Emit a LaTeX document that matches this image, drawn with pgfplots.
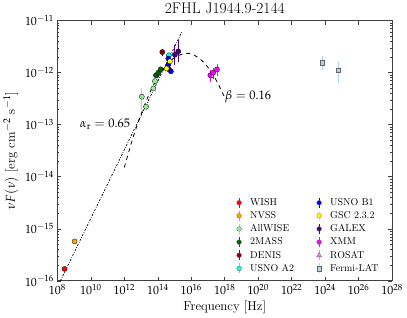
\documentclass[border=0pt]{standalone}
\usepackage{mathpazo}
\usepackage{pgfplots}
\pgfplotsset{compat=1.18}
\definecolor{cWISH}{HTML}{FF0000}
\definecolor{cNVSS}{HTML}{FFA500}
\definecolor{cALLW}{HTML}{90EE90}
\definecolor{cTMASS}{HTML}{006400}
\definecolor{cDENIS}{HTML}{8B0000}
\definecolor{cUSNOA}{HTML}{00FFFF}
\definecolor{cUSNOB}{HTML}{0000FF}
\definecolor{cGSC}{HTML}{FFFF00}
\definecolor{cGALEX}{HTML}{4B0082}
\definecolor{cXMM}{HTML}{FF00FF}
\definecolor{cROSAT}{HTML}{EE82EE}
\definecolor{cFERMI}{HTML}{ADD8E6}
\newcommand{\legc}[3]{\addlegendimage{legend image code/.code={\path (-6pt,0pt) (9pt,0pt);\draw[#1,line width=0.8pt] (0pt,-5pt)--(0pt,5pt); \draw[black!60,line width=0.3pt,fill=#1] #2;}}\addlegendentry{#3}}
\pgfplotsset{
  dat/.style={only marks, mark=*, mark size=2.6pt, mark options={fill=#1, draw=black, line width=0.3pt}, forget plot},
  errb/.style={error bars/.cd, y dir=both, y explicit, error mark=none, error bar style={#1, line width=0.8pt}},
}
\begin{document}
\begin{tikzpicture}
\begin{axis}[
  scale only axis, width=337pt, height=262pt,
  xmode=log, ymode=log,
  xmin=1e8, xmax=1e28, ymin=1e-16, ymax=1e-11,
  xtick={1e8,1e10,1e12,1e14,1e16,1e18,1e20,1e22,1e24,1e26,1e28},
  xminorticks=false,
  title={2FHL J1944.9-2144},
  title style={font=\fontsize{15.5}{17}\selectfont, yshift=-3pt},
  xlabel={Frequency [Hz]},
  ylabel={$\nu F(\nu)$ [erg cm$^{-2}$ s$^{-1}$]},
  label style={font=\fontsize{13}{15}\selectfont},
  xlabel style={yshift=1pt},
  tick label style={font=\fontsize{12}{14}\selectfont},
  axis line style={black!75, line width=0.9pt},
  major tick length=4pt, minor tick length=2pt,
  tick style={black!75, line width=0.5pt},
  legend columns=2,
  legend cell align=left,
  legend style={draw=none, fill=none, at={(0.515,0.015)}, anchor=south west,
    font=\fontsize{10}{11}\selectfont, row sep=0.6pt,
    /tikz/every even column/.append style={column sep=17pt}},
]
% model lines
\addplot[black, line width=0.7pt, dash pattern=on 2pt off 1.5pt on 0.6pt off 1.5pt, forget plot]
  coordinates {(1.51e8,1e-16) (2.82e15,6.17e-12)};
\addplot[black, line width=0.8pt, dash pattern=on 4pt off 4pt, smooth, forget plot]
  coordinates {(1e12,1.51e-14) (3.16e12,5.37e-14) (1e13,1.58e-13) (3.16e13,3.98e-13)
   (1e14,8.13e-13) (3.16e14,1.38e-12) (1e15,1.95e-12) (3.16e15,2.29e-12) (5.01e15,2.34e-12)
   (1e16,2.29e-12) (3.16e16,1.86e-12) (1e17,1.26e-12) (3.16e17,7.08e-13) (1e18,3.31e-13)};
% data
\addplot[dat=cWISH] coordinates {(2.7e8,1.69e-16)};
\addplot[dat=cNVSS] coordinates {(1.07e9,5.72e-16)};
\addplot[dat=cALLW, errb=cALLW] coordinates {
  (1.11e13,3.44e-13) += (0,1.6e-13) -= (0,1.53e-13)
  (2.0e13,2.21e-13) += (0,0.3e-13) -= (0,0.3e-13)
  (5.48e13,4.97e-13) += (0,0.3e-13) -= (0,0.3e-13)
  (6.8e13,6.85e-13) += (0,0.3e-13) -= (0,0.3e-13)};
\addplot[dat=cTMASS] coordinates {(7.8e13,8.9e-13) (1.09e14,1.0e-12) (1.49e14,1.16e-12)};
\addplot[dat=cDENIS, errb=cDENIS] coordinates {
  (1.86e14,2.48e-12) += (0,0.35e-12) -= (0,0.35e-12)
  (4.62e14,1.16e-12) += (0,0.1e-12) -= (0,0.1e-12)};
\addplot[dat=cUSNOA] coordinates {(4.62e14,2.15e-12)};
\addplot[dat=cUSNOB] coordinates {(4.26e14,1.86e-12) (4.26e14,1.43e-12) (6.05e14,1.06e-12)};
\addplot[dat=cGSC] coordinates {(5.27e14,1.65e-12) (3.38e14,1.20e-12)};
\addplot[dat=cGALEX, errb=cGALEX] coordinates {
  (1.05e15,2.21e-12) += (0,1.12e-12) -= (0,0.83e-12)
  (1.67e15,2.56e-12) += (0,1.59e-12) -= (0,0.98e-12)};
\addplot[dat=cXMM, errb=cXMM] coordinates {
  (1.38e17,8.9e-13) += (0,2.2e-13) -= (0,2.2e-13)
  (2.0e17,9.9e-13) += (0,2.5e-13) -= (0,2.5e-13)
  (3.44e17,1.15e-12) += (0,2.9e-13) -= (0,2.9e-13)};
\addplot[only marks, mark=triangle*, mark size=2.2pt, mark options={fill=cROSAT, draw=violet!80!black, line width=0.3pt}, forget plot]
  coordinates {(1.8e17,8.5e-13)};
\addplot[only marks, mark=square*, mark size=2.4pt, mark options={fill=cFERMI, draw=black!60, line width=0.4pt}, forget plot,
  error bars/.cd, y dir=both, y explicit, error mark=none, error bar style={cFERMI, line width=0.8pt}]
  coordinates {(6.76e23,1.53e-12) += (0,0.53e-12) -= (0,0.42e-12)
               (6.0e24,1.11e-12) += (0,0.49e-12) -= (0,0.49e-12)};
% annotations
\node[font=\fontsize{12.5}{14}\selectfont] at (axis cs:7.1e10,1e-13) {$\alpha_{\mathrm{r}} = 0.65$};
\node[font=\fontsize{12.5}{14}\selectfont] at (axis cs:2.45e19,3.39e-13) {$\beta = 0.16$};
% legend (two columns)
\legc{cWISH}{(0pt,0pt) circle (2.4pt)}{WISH}
\legc{cUSNOB}{(0pt,0pt) circle (2.4pt)}{USNO B1}
\legc{cNVSS}{(0pt,0pt) circle (2.4pt)}{NVSS}
\legc{cGSC}{(0pt,0pt) circle (2.4pt)}{GSC 2.3.2}
\legc{cALLW}{(0pt,0pt) circle (2.4pt)}{AllWISE}
\legc{cGALEX}{(0pt,0pt) circle (2.4pt)}{GALEX}
\legc{cTMASS}{(0pt,0pt) circle (2.4pt)}{2MASS}
\legc{cXMM}{(0pt,0pt) circle (2.4pt)}{XMM}
\legc{cDENIS}{(0pt,0pt) circle (2.4pt)}{DENIS}
\legc{cROSAT}{(0pt,2.8pt)--(-2.5pt,-1.6pt)--(2.5pt,-1.6pt)--cycle}{ROSAT}
\legc{cUSNOA}{(0pt,0pt) circle (2.4pt)}{USNO A2}
\legc{cFERMI}{(-2.4pt,-2.4pt) rectangle (2.4pt,2.4pt)}{Fermi-LAT}
\end{axis}
\path ([xshift=-55pt,yshift=-36pt]current axis.south west) rectangle ([xshift=15pt,yshift=20pt]current axis.north east);
\end{tikzpicture}
\end{document}
